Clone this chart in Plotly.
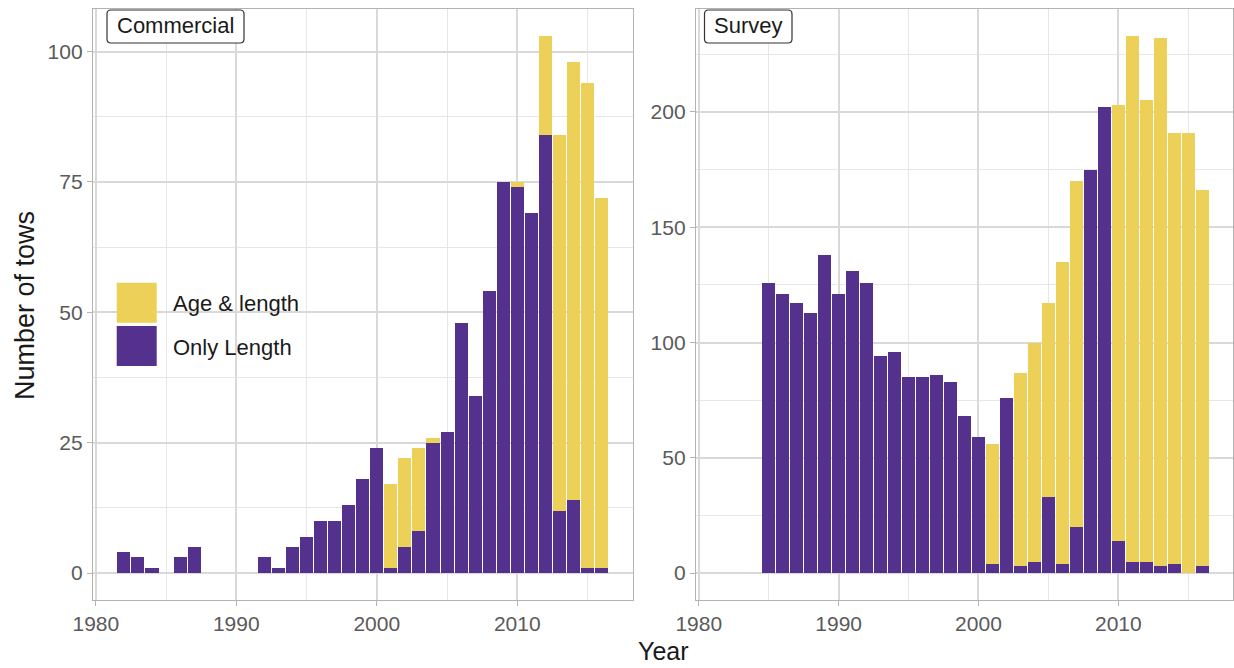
import plotly.graph_objects as go

# ---------------- data ----------------
com_years = [1982, 1983, 1984, 1986, 1987, 1992, 1993, 1994, 1995, 1996, 1997, 1998,
             1999, 2000, 2001, 2002, 2003, 2004, 2005, 2006, 2007, 2008, 2009, 2010,
             2011, 2012, 2013, 2014, 2015, 2016]
com_only_length = [4, 3, 1, 3, 5, 3, 1, 5, 7, 10, 10, 13, 18, 24, 1, 5, 8, 25, 27, 48,
                   34, 54, 75, 74, 69, 84, 12, 14, 1, 1]
com_age_length = [0, 0, 0, 0, 0, 0, 0, 0, 0, 0, 0, 0, 0, 0, 16, 17, 16, 1, 0, 0,
                  0, 0, 0, 1, 0, 19, 72, 84, 93, 71]

sur_years = list(range(1985, 2017))
sur_only_length = [126, 121, 117, 113, 138, 121, 131, 126, 94, 96, 85, 85, 86, 83, 68, 59,
                   4, 76, 3, 5, 33, 4, 20, 175, 202, 14, 5, 5, 3, 4, 0, 3]
sur_age_length = [0, 0, 0, 0, 0, 0, 0, 0, 0, 0, 0, 0, 0, 0, 0, 0,
                  52, 0, 84, 95, 84, 131, 150, 0, 0, 189, 228, 200, 229, 187, 191, 163]

series_names = ["Only Length", "Age & length"]
panel_titles = ["Commercial", "Survey"]
x_ticks = [1980, 1990, 2000, 2010]
com_y_ticks = [0, 25, 50, 75, 100]
sur_y_ticks = [0, 50, 100, 150, 200]

# ---------------- style ----------------
PURPLE = "#54318D"
YELLOW = "#ECD058"
FONT = "Liberation Sans"
W, H = 1234, 668
ML, MR, MT, MB = 93, 1, 9, 68
PW, PH = W - ML - MR, H - MT - MB


def px(X):
    return (X - ML) / PW


def py(Y):
    return (H - MB - Y) / PH


fig = go.Figure()
bw = 0.93
for xa, ya, yrs, ol, al in [("x", "y", com_years, com_only_length, com_age_length),
                            ("x2", "y2", sur_years, sur_only_length, sur_age_length)]:
    fig.add_trace(go.Bar(x=yrs, y=ol, name=series_names[0], marker_color=PURPLE,
                         marker_line_width=0, width=bw, xaxis=xa, yaxis=ya, showlegend=False))
    fig.add_trace(go.Bar(x=yrs, y=al, name=series_names[1], marker_color=YELLOW,
                         marker_line_width=0, width=bw, xaxis=xa, yaxis=ya, showlegend=False))

xrange = [1979.8, 2018.2]
com_max = max(o + a for o, a in zip(com_only_length, com_age_length))
sur_max = max(o + a for o, a in zip(sur_only_length, sur_age_length))
com_yrange = [-0.05 * com_max, 1.05 * com_max]
sur_yrange = [-0.05 * sur_max, 1.05 * sur_max]

axis_common = dict(
    showline=True, mirror=True, linecolor="#b3b3b3", linewidth=1.3,
    ticks="outside", ticklen=5, tickwidth=1.3, tickcolor="#b3b3b3",
    tickfont=dict(family=FONT, size=21, color="#5a5a5a"),
    showgrid=True, gridcolor="#d9d9d9", gridwidth=1.5, zeroline=False,
)

dom_left = [0, px(632.5)]
dom_right = [px(696), 1]

fig.update_layout(
    width=W, height=H,
    margin=dict(l=ML, r=MR, t=MT, b=MB),
    plot_bgcolor="white", paper_bgcolor="white",
    barmode="stack", bargap=0,
    showlegend=False,
    xaxis=dict(domain=dom_left, range=xrange, tickvals=x_ticks, anchor="y",
               minor=dict(dtick=5, tick0=1980, showgrid=True, gridcolor="#e6e6e6", gridwidth=0.8),
               **axis_common),
    yaxis=dict(domain=[0, 1], range=com_yrange, tickvals=com_y_ticks, anchor="x",
               minor=dict(dtick=12.5, tick0=0, showgrid=True, gridcolor="#e6e6e6", gridwidth=0.8),
               **axis_common),
    xaxis2=dict(domain=dom_right, range=xrange, tickvals=x_ticks, anchor="y2",
                minor=dict(dtick=5, tick0=1980, showgrid=True, gridcolor="#e6e6e6", gridwidth=0.8),
                **axis_common),
    yaxis2=dict(domain=[0, 1], range=sur_yrange, tickvals=sur_y_ticks, anchor="x2",
                minor=dict(dtick=25, tick0=0, showgrid=True, gridcolor="#e6e6e6", gridwidth=0.8),
                **axis_common),
)


def rounded_box(x0, y0, x1, y1, r=4):
    # pixel coords -> paper path with rounded corners
    rx, ry = r / PW, r / PH
    X0, X1 = px(x0), px(x1)
    Yt, Yb = py(y0), py(y1)
    return (f"M {X0+rx},{Yt} L {X1-rx},{Yt} Q {X1},{Yt} {X1},{Yt-ry} "
            f"L {X1},{Yb+ry} Q {X1},{Yb} {X1-rx},{Yb} L {X0+rx},{Yb} "
            f"Q {X0},{Yb} {X0},{Yb+ry} L {X0},{Yt-ry} Q {X0},{Yt} {X0+rx},{Yt} Z")


shapes = []
annotations = []
# facet strip labels
for (x0, x1), title in zip([(107, 244), (704.5, 792)], panel_titles):
    shapes.append(dict(type="path", xref="paper", yref="paper",
                       path=rounded_box(x0, 10, x1, 43),
                       fillcolor="white", line=dict(color="#333333", width=1.2)))
    annotations.append(dict(x=px((x0 + x1) / 2), y=py(25.5), xref="paper", yref="paper",
                            text=title, showarrow=False, xanchor="center", yanchor="middle",
                            font=dict(family=FONT, size=22, color="#1a1a1a")))

# legend (manual, large keys)
for (y0, y1), col, label, ty in [((282.7, 322.7), YELLOW, series_names[1], 303.5),
                                  ((326, 366), PURPLE, series_names[0], 347)]:
    shapes.append(dict(type="rect", xref="paper", yref="paper",
                       x0=px(116.7), x1=px(156.7), y0=py(y1), y1=py(y0),
                       fillcolor=col, line=dict(width=0)))
    annotations.append(dict(x=px(171), y=py(ty), xref="paper", yref="paper",
                            text=label, showarrow=False, xanchor="left", yanchor="middle",
                            font=dict(family=FONT, size=22, color="#1a1a1a")))

# axis titles
annotations.append(dict(x=px((ML + W - MR) / 2), y=py(651), xref="paper", yref="paper",
                        text="Year", showarrow=False, xanchor="center", yanchor="middle",
                        font=dict(family=FONT, size=25, color="#1a1a1a")))
annotations.append(dict(x=px(25), y=py(306), xref="paper", yref="paper",
                        text="Number of tows", showarrow=False, textangle=-90,
                        xanchor="center", yanchor="middle",
                        font=dict(family=FONT, size=27, color="#1a1a1a")))

fig.update_layout(shapes=shapes, annotations=annotations)

fig.write_html("out.html", config={"displayModeBar": False})
